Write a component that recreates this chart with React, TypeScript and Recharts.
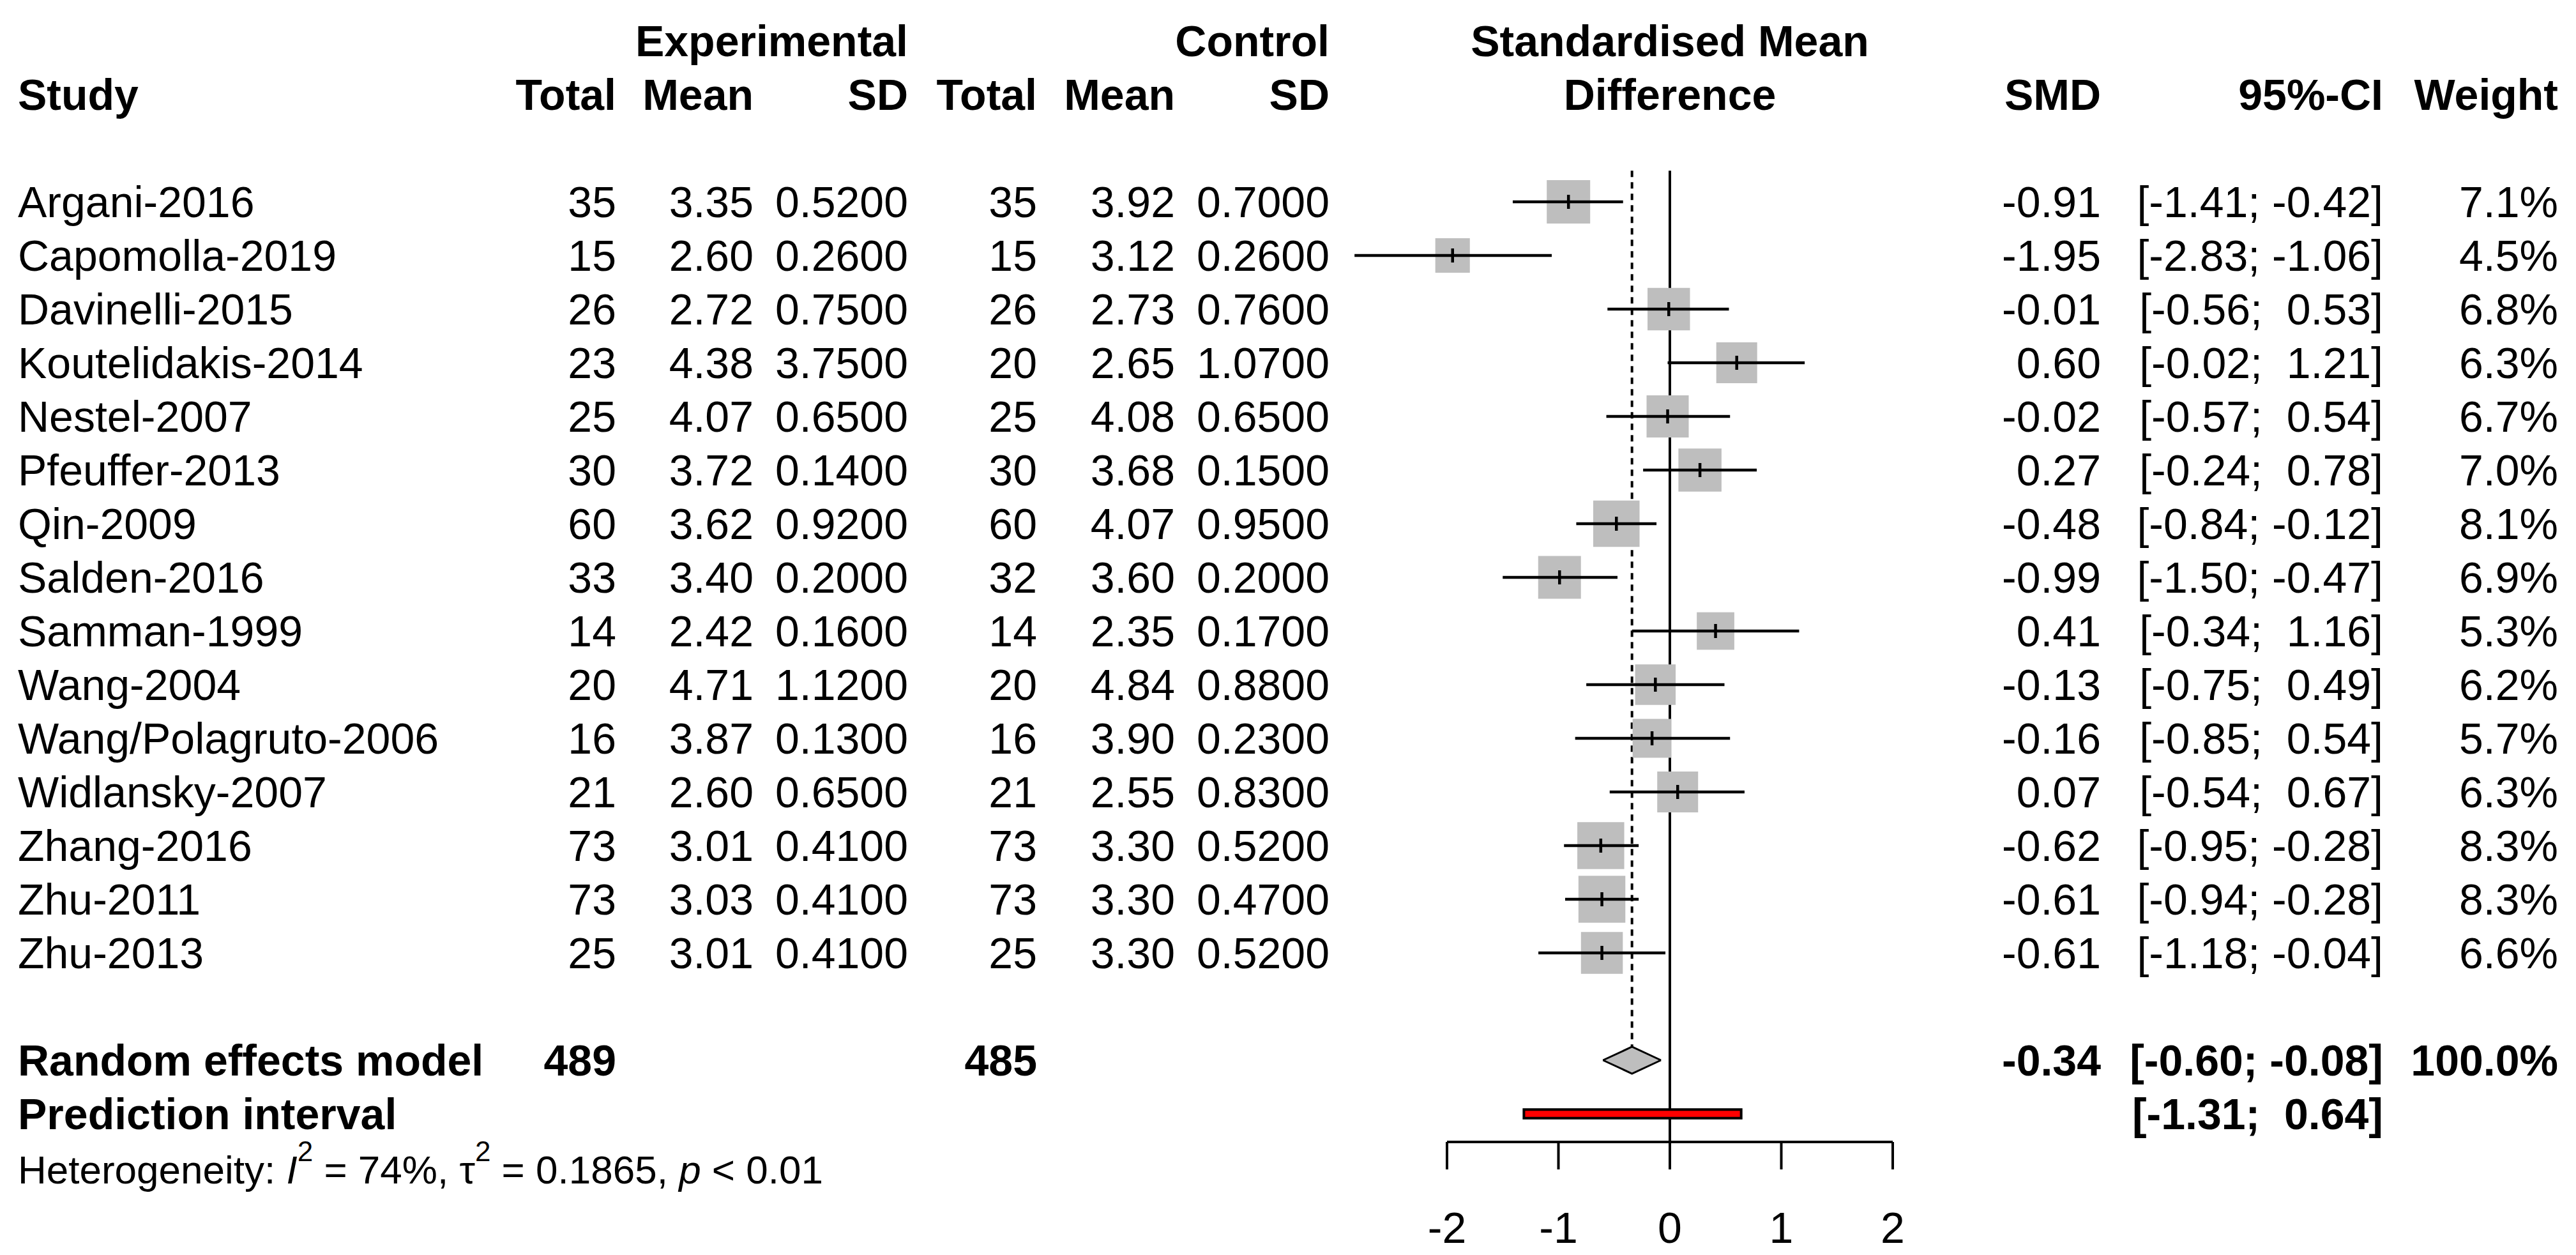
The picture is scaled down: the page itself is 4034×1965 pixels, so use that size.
import React from 'react';
import { ComposedChart, XAxis, YAxis, Scatter, ErrorBar, Area, ReferenceLine, ReferenceArea } from 'recharts';

// ---- data ----
const studies = [
  'Argani-2016', 'Capomolla-2019', 'Davinelli-2015', 'Koutelidakis-2014', 'Nestel-2007',
  'Pfeuffer-2013', 'Qin-2009', 'Salden-2016', 'Samman-1999', 'Wang-2004',
  'Wang/Polagruto-2006', 'Widlansky-2007', 'Zhang-2016', 'Zhu-2011', 'Zhu-2013',
];
const expTotal = [35, 15, 26, 23, 25, 30, 60, 33, 14, 20, 16, 21, 73, 73, 25];
const expMean = [3.35, 2.60, 2.72, 4.38, 4.07, 3.72, 3.62, 3.40, 2.42, 4.71, 3.87, 2.60, 3.01, 3.03, 3.01];
const expSD = [0.52, 0.26, 0.75, 3.75, 0.65, 0.14, 0.92, 0.20, 0.16, 1.12, 0.13, 0.65, 0.41, 0.41, 0.41];
const ctrlTotal = [35, 15, 26, 20, 25, 30, 60, 32, 14, 20, 16, 21, 73, 73, 25];
const ctrlMean = [3.92, 3.12, 2.73, 2.65, 4.08, 3.68, 4.07, 3.60, 2.35, 4.84, 3.90, 2.55, 3.30, 3.30, 3.30];
const ctrlSD = [0.70, 0.26, 0.76, 1.07, 0.65, 0.15, 0.95, 0.20, 0.17, 0.88, 0.23, 0.83, 0.52, 0.47, 0.52];
const smd = [-0.91, -1.95, -0.01, 0.60, -0.02, 0.27, -0.48, -0.99, 0.41, -0.13, -0.16, 0.07, -0.62, -0.61, -0.61];
const ciLow = [-1.41, -2.83, -0.56, -0.02, -0.57, -0.24, -0.84, -1.50, -0.34, -0.75, -0.85, -0.54, -0.95, -0.94, -1.18];
const ciHigh = [-0.42, -1.06, 0.53, 1.21, 0.54, 0.78, -0.12, -0.47, 1.16, 0.49, 0.54, 0.67, -0.28, -0.28, -0.04];
const weight = [7.1, 4.5, 6.8, 6.3, 6.7, 7.0, 8.1, 6.9, 5.3, 6.2, 5.7, 6.3, 8.3, 8.3, 6.6];

const reExpTotal = 489;
const reCtrlTotal = 485;
const reSMD = -0.34;
const reLow = -0.60;
const reHigh = -0.08;
const reWeight = 100.0;
const piLow = -1.31;
const piHigh = 0.64;
const hetI2 = '74%';
const hetTau2 = '0.1865';
const hetP = '0.01';
const xTicks = [-2, -1, 0, 1, 2];

// ---- layout ----
const W = 4034;
const H = 1965;
const FONT = '"Liberation Sans", Arial, Helvetica, sans-serif';
const FS = 68;
const ROW0_Y = 316;   // pixel centre of first study row
const ROW_H = 84;
const AXIS_Y = 1788;  // bottom of plot area = x axis line
const ZERO_X = 2615;
const UNIT = 174.5;
const X_DOMAIN: [number, number] = [-ZERO_X / UNIT, (W - ZERO_X) / UNIT];
const Y_DOMAIN: [number, number] = [-ROW0_Y / ROW_H, (AXIS_Y - ROW0_Y) / ROW_H];
const TXT_DY = 24;
const SQ_K = 25.5;
const GREY = '#bebebe';

const NAME_X = 28;
const COL = {
  eTotal: 965, eMean: 1180, eSD: 1422,
  cTotal: 1624, cMean: 1840, cSD: 2082,
  smd: 3290, ci: 3732, w: 4006,
};

const RE_ROW = 16;
const PI_ROW = 17;
const LINE_TOP = -0.58;
const DIAMOND_H = 0.25;
const PI_H = 0.08;

const pad = (v: number) => (v < 0 ? '' : ' ') + v.toFixed(2);
const fmtCI = (lo: number, hi: number) => `[${pad(lo)}; ${pad(hi)}]`;

const studyRows = studies.map((name, i) => ({
  x: smd[i],
  y: i,
  name,
  eT: expTotal[i], eM: expMean[i], eS: expSD[i],
  cT: ctrlTotal[i], cM: ctrlMean[i], cS: ctrlSD[i],
  lo: ciLow[i], hi: ciHigh[i], w: weight[i],
  err: [smd[i] - ciLow[i], ciHigh[i] - smd[i]],
}));

const headerRows = [{ x: 0, y: -3, kind: 'top' }, { x: 0, y: -2, kind: 'sub' }];
const summaryRows = [{ x: reSMD, y: RE_ROW, kind: 're' }, { x: 0, y: PI_ROW, kind: 'pi' }];

const diamond = [
  { x: reLow, band: [RE_ROW, RE_ROW] },
  { x: reSMD, band: [RE_ROW - DIAMOND_H, RE_ROW + DIAMOND_H] },
  { x: reHigh, band: [RE_ROW, RE_ROW] },
];

const T = ({ x, y, anchor = 'start', bold = false, size = FS, children }: any) => (
  <text
    x={x}
    y={y}
    textAnchor={anchor}
    fontFamily={FONT}
    fontSize={size}
    fontWeight={bold ? 'bold' : 'normal'}
    fill="#000"
    xmlSpace="preserve"
    style={{ whiteSpace: 'pre' }}
  >
    {children}
  </text>
);

const StudyRow = (props: any) => {
  const { cx, cy, payload } = props;
  const side = SQ_K * Math.sqrt(payload.w);
  const ty = cy + TXT_DY;
  return (
    <g>
      <rect x={cx - side / 2} y={cy - side / 2} width={side} height={side} fill={GREY} />
      <T x={NAME_X} y={ty}>{payload.name}</T>
      <T x={COL.eTotal} y={ty} anchor="end">{String(payload.eT)}</T>
      <T x={COL.eMean} y={ty} anchor="end">{payload.eM.toFixed(2)}</T>
      <T x={COL.eSD} y={ty} anchor="end">{payload.eS.toFixed(4)}</T>
      <T x={COL.cTotal} y={ty} anchor="end">{String(payload.cT)}</T>
      <T x={COL.cMean} y={ty} anchor="end">{payload.cM.toFixed(2)}</T>
      <T x={COL.cSD} y={ty} anchor="end">{payload.cS.toFixed(4)}</T>
      <T x={COL.smd} y={ty} anchor="end">{payload.x.toFixed(2)}</T>
      <T x={COL.ci} y={ty} anchor="end">{fmtCI(payload.lo, payload.hi)}</T>
      <T x={COL.w} y={ty} anchor="end">{payload.w.toFixed(1) + '%'}</T>
    </g>
  );
};

const EstTick = (props: any) => {
  const { cx, cy } = props;
  return <line x1={cx} x2={cx} y1={cy - 11} y2={cy + 11} stroke="#000" strokeWidth={4.5} />;
};

const HeaderRow = (props: any) => {
  const { cy, payload } = props;
  const ty = cy + TXT_DY;
  if (payload.kind === 'top') {
    return (
      <g>
        <T x={COL.eSD} y={ty} anchor="end" bold>Experimental</T>
        <T x={COL.cSD} y={ty} anchor="end" bold>Control</T>
        <T x={ZERO_X} y={ty} anchor="middle" bold>Standardised Mean</T>
      </g>
    );
  }
  return (
    <g>
      <T x={NAME_X} y={ty} bold>Study</T>
      <T x={COL.eTotal} y={ty} anchor="end" bold>Total</T>
      <T x={COL.eMean} y={ty} anchor="end" bold>Mean</T>
      <T x={COL.eSD} y={ty} anchor="end" bold>SD</T>
      <T x={COL.cTotal} y={ty} anchor="end" bold>Total</T>
      <T x={COL.cMean} y={ty} anchor="end" bold>Mean</T>
      <T x={COL.cSD} y={ty} anchor="end" bold>SD</T>
      <T x={ZERO_X} y={ty} anchor="middle" bold>Difference</T>
      <T x={COL.smd} y={ty} anchor="end" bold>SMD</T>
      <T x={COL.ci} y={ty} anchor="end" bold>95%-CI</T>
      <T x={COL.w} y={ty} anchor="end" bold>Weight</T>
    </g>
  );
};

const SummaryRow = (props: any) => {
  const { cy, payload } = props;
  const ty = cy + TXT_DY;
  if (payload.kind === 're') {
    return (
      <g>
        <T x={NAME_X} y={ty} bold>Random effects model</T>
        <T x={COL.eTotal} y={ty} anchor="end" bold>{String(reExpTotal)}</T>
        <T x={COL.cTotal} y={ty} anchor="end" bold>{String(reCtrlTotal)}</T>
        <T x={COL.smd} y={ty} anchor="end" bold>{reSMD.toFixed(2)}</T>
        <T x={COL.ci} y={ty} anchor="end" bold>{fmtCI(reLow, reHigh)}</T>
        <T x={COL.w} y={ty} anchor="end" bold>{reWeight.toFixed(1) + '%'}</T>
      </g>
    );
  }
  return (
    <g>
      <T x={NAME_X} y={ty} bold>Prediction interval</T>
      <T x={COL.ci} y={ty} anchor="end" bold>{fmtCI(piLow, piHigh)}</T>
    </g>
  );
};

const HetLabel = (props: any) => {
  const vb = props.viewBox || {};
  const base = (typeof vb.y === 'number' ? vb.y : AXIS_Y) + 65;
  return (
    <text x={NAME_X} y={base} fontFamily={FONT} fontSize={62} fill="#000" xmlSpace="preserve" style={{ whiteSpace: 'pre' }}>
      <tspan>{'Heterogeneity: '}</tspan>
      <tspan fontStyle="italic">I</tspan>
      <tspan dy={-35} fontSize={44}>2</tspan>
      <tspan dy={35}>{` = ${hetI2}, \u03C4`}</tspan>
      <tspan dy={-35} fontSize={44}>2</tspan>
      <tspan dy={35}>{` = ${hetTau2}, `}</tspan>
      <tspan fontStyle="italic">p</tspan>
      <tspan>{` < ${hetP}`}</tspan>
    </text>
  );
};

export default function App() {
  const axisRow = Y_DOMAIN[1];
  return (
    <div style={{ position: 'absolute', left: 0, top: 0, width: W, height: H, background: '#fff', overflow: 'hidden' }}>
      <ComposedChart width={W} height={H} margin={{ top: 0, right: 0, bottom: 0, left: 0 }}>
        <XAxis
          type="number"
          dataKey="x"
          domain={X_DOMAIN}
          allowDataOverflow
          ticks={xTicks}
          interval={0}
          height={H - AXIS_Y}
          axisLine={false}
          tickSize={43}
          tickMargin={67}
          tickLine={{ stroke: '#000', strokeWidth: 4 }}
          tick={{ fontSize: FS, fill: '#000', fontFamily: FONT }}
          label={<HetLabel />}
        />
        <YAxis type="number" dataKey="y" domain={Y_DOMAIN} allowDataOverflow reversed hide />

        <ReferenceLine
          segment={[{ x: 0, y: LINE_TOP }, { x: 0, y: axisRow }]}
          stroke="#000"
          strokeWidth={4}
          ifOverflow="visible"
          zIndex={50}
        />
        <ReferenceLine
          segment={[{ x: reSMD, y: LINE_TOP }, { x: reSMD, y: RE_ROW - DIAMOND_H }]}
          stroke="#000"
          strokeWidth={4}
          strokeDasharray="10 8"
          ifOverflow="visible"
          zIndex={50}
        />

        <Area
          data={diamond}
          dataKey="band"
          type="linear"
          fill={GREY}
          fillOpacity={1}
          stroke="#000"
          strokeWidth={3}
          isAnimationActive={false}
          dot={false}
          activeDot={false}
          zIndex={100}
        />

        <ReferenceArea
          x1={piLow}
          x2={piHigh}
          y1={PI_ROW - PI_H}
          y2={PI_ROW + PI_H}
          fill="#ff0000"
          fillOpacity={1}
          stroke="#000"
          strokeWidth={4}
          ifOverflow="visible"
          zIndex={700}
        />

        <Scatter data={headerRows} shape={HeaderRow} isAnimationActive={false} zIndex={600} />
        <Scatter data={summaryRows} shape={SummaryRow} isAnimationActive={false} zIndex={600} />
        <Scatter data={studyRows} shape={StudyRow} isAnimationActive={false} zIndex={200} />
        <Scatter data={studyRows} shape={EstTick} isAnimationActive={false} zIndex={800}>
          <ErrorBar
            dataKey="err"
            direction="x"
            width={0}
            stroke="#000"
            strokeWidth={4.5}
            isAnimationActive={false}
            zIndex={750}
          />
        </Scatter>

        <ReferenceLine
          segment={[{ x: xTicks[0], y: axisRow }, { x: xTicks[xTicks.length - 1], y: axisRow }]}
          stroke="#000"
          strokeWidth={4}
          ifOverflow="visible"
          zIndex={900}
        />
      </ComposedChart>
    </div>
  );
}
